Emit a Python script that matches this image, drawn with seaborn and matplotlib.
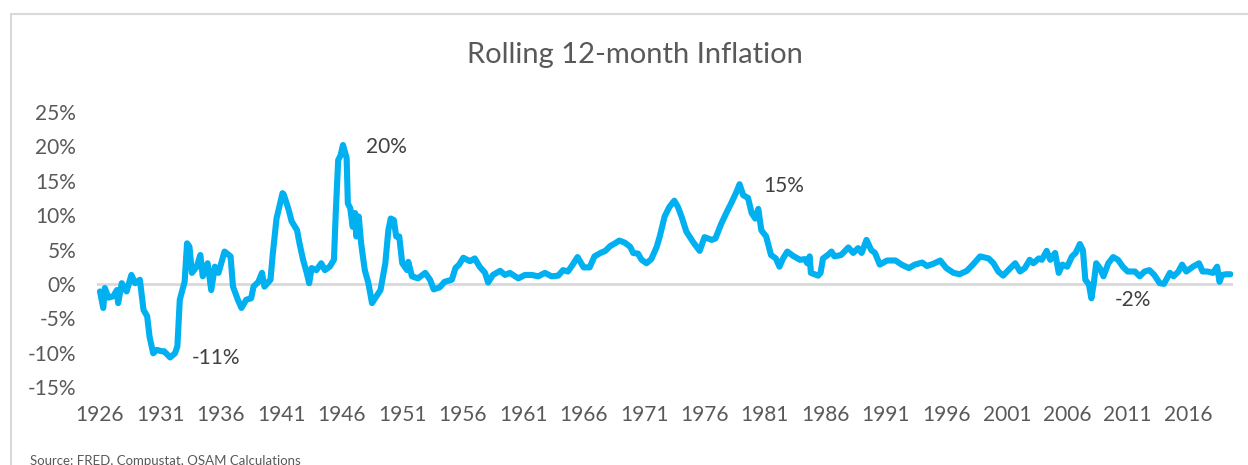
import numpy as np
import pandas as pd
import matplotlib.pyplot as plt
from matplotlib.patches import Rectangle
import seaborn as sns

# configurações do seaborn
sns.set_style('white')
plt.rcParams['font.family'] = ['Lato', 'DejaVu Sans']

# dados (ano decimal, inflação 12 meses em %)
anos = [1926.0, 1926.27, 1926.4, 1926.7, 1927.1, 1927.4, 1927.5, 1927.8, 1928.2, 1928.6,
        1928.9, 1929.3, 1929.6, 1929.9, 1930.1, 1930.4, 1930.7, 1931.1, 1931.3, 1931.8,
        1932.2, 1932.4, 1932.6, 1933.0, 1933.2, 1933.4, 1933.6, 1934.0, 1934.3, 1934.5,
        1934.9, 1935.2, 1935.5, 1935.8, 1936.3, 1936.8, 1937.0, 1937.4, 1937.7, 1938.1,
        1938.5, 1938.7, 1939.1, 1939.4, 1939.6, 1940.1, 1940.3, 1940.6, 1941.1, 1941.2,
        1941.6, 1941.85, 1942.3, 1942.5, 1942.8, 1943.1, 1943.3, 1943.5, 1943.9, 1944.3,
        1944.6, 1945.0, 1945.35, 1945.5, 1945.7, 1945.9, 1946.1, 1946.4, 1946.5, 1946.7,
        1946.9, 1947.1, 1947.2, 1947.4, 1947.6, 1947.9, 1948.2, 1948.5, 1948.75, 1949.2,
        1949.6, 1949.85, 1950.05, 1950.3, 1950.5, 1950.75, 1951.0, 1951.4, 1951.5, 1951.8,
        1952.3, 1952.9, 1953.3, 1953.6, 1954.1, 1954.5, 1955.1, 1955.4, 1955.7, 1956.05,
        1956.6, 1957.0, 1957.4, 1957.85, 1958.1, 1958.5, 1959.1, 1959.5, 1959.9, 1960.6,
        1961.15, 1961.7, 1962.25, 1962.8, 1963.35, 1963.9, 1964.3, 1964.7, 1965.1, 1965.5,
        1966.0, 1966.5, 1966.9, 1967.4, 1967.8, 1968.2, 1968.6, 1968.95, 1969.4, 1969.85,
        1970.1, 1970.5, 1970.8, 1971.2, 1971.6, 1972.05, 1972.3, 1972.7, 1973.1, 1973.5,
        1973.8, 1974.1, 1974.5, 1975.05, 1975.6, 1976.0, 1976.6, 1976.9, 1977.4, 1977.8,
        1978.2, 1978.65, 1978.9, 1979.2, 1979.6, 1979.9, 1980.2, 1980.45, 1980.7, 1981.1,
        1981.5, 1981.9, 1982.2, 1982.5, 1982.85, 1983.3, 1983.9, 1984.3, 1984.5, 1984.7,
        1984.8, 1985.4, 1985.6, 1985.8, 1986.2, 1986.5, 1986.75, 1987.3, 1987.9, 1988.3,
        1988.7, 1989.0, 1989.4, 1989.8, 1990.1, 1990.5, 1991.1, 1991.8, 1992.3, 1992.9,
        1993.4, 1994.0, 1994.4, 1994.9, 1995.5, 1996.0, 1996.6, 1997.1, 1997.7, 1998.2,
        1998.8, 1999.5, 1999.9, 2000.3, 2000.7, 2001.3, 2001.7, 2002.1, 2002.5, 2002.9,
        2003.2, 2003.65, 2003.9, 2004.3, 2004.6, 2005.0, 2005.3, 2005.6, 2006.0, 2006.4,
        2006.7, 2007.05, 2007.3, 2007.5, 2007.8, 2008.0, 2008.2, 2008.4, 2008.7, 2009.0,
        2009.4, 2009.8, 2010.2, 2010.6, 2011.0, 2011.6, 2012.0, 2012.4, 2012.8, 2013.2,
        2013.65, 2014.0, 2014.5, 2014.8, 2015.2, 2015.5, 2015.85, 2016.4, 2016.9, 2017.2,
        2017.6, 2018.05, 2018.4, 2018.6, 2018.8, 2019.15, 2019.5]

inflacao = [-1.1, -3.5, -0.6, -2.0, -1.8, -0.9, -2.8, 0.1, -1.1, 1.3,
            0.1, 0.6, -3.8, -4.7, -7.7, -10.1, -9.6, -9.8, -9.8, -10.7,
            -10.1, -9.1, -2.3, 0.3, 5.9, 5.4, 1.6, 2.5, 4.2, 1.1,
            3.0, -0.9, 2.5, 1.6, 4.7, 4.0, -0.4, -2.3, -3.5, -2.3,
            -2.1, -0.4, 0.3, 1.6, -0.4, 0.6, 4.5, 9.5, 13.2, 13.0,
            10.8, 9.1, 7.8, 5.9, 3.5, 1.6, 0.1, 2.3, 2.0, 3.0,
            2.0, 2.5, 3.5, 10.3, 18.0, 18.7, 20.2, 18.3, 11.7, 11.0,
            8.3, 10.3, 6.9, 9.8, 5.9, 2.0, 0.1, -2.8, -2.1, -0.9,
            3.0, 7.8, 9.5, 9.3, 6.9, 6.9, 3.0, 2.0, 3.2, 1.1,
            0.8, 1.6, 0.6, -0.8, -0.5, 0.3, 0.6, 2.3, 2.8, 3.8,
            3.3, 3.7, 2.5, 1.6, 0.2, 1.3, 1.9, 1.3, 1.6, 0.8,
            1.3, 1.3, 1.1, 1.6, 1.1, 1.2, 2.0, 1.8, 2.8, 3.9,
            2.4, 2.4, 4.0, 4.5, 4.8, 5.5, 5.9, 6.3, 6.0, 5.4,
            4.5, 4.4, 3.5, 3.0, 3.6, 5.4, 6.9, 9.8, 11.2, 12.1,
            11.2, 9.8, 7.6, 6.1, 4.8, 6.8, 6.4, 6.6, 8.8, 10.3,
            11.7, 13.4, 14.5, 12.9, 12.5, 10.3, 9.5, 10.9, 7.8, 6.9,
            4.2, 3.7, 2.5, 3.7, 4.7, 4.1, 3.5, 3.6, 3.0, 4.0,
            1.6, 1.2, 1.6, 3.7, 4.2, 4.7, 4.0, 4.2, 5.3, 4.5,
            5.2, 4.5, 6.4, 4.9, 4.5, 2.8, 3.4, 3.4, 2.8, 2.3,
            2.8, 3.1, 2.6, 2.9, 3.4, 2.3, 1.6, 1.4, 1.9, 2.8,
            4.0, 3.7, 3.0, 1.8, 1.2, 2.3, 3.0, 1.8, 2.3, 3.5,
            3.0, 3.7, 3.5, 4.8, 3.5, 4.5, 1.6, 2.8, 2.5, 4.0,
            4.5, 5.8, 4.9, 0.6, -0.1, -2.1, 0.1, 3.0, 2.3, 1.1,
            3.0, 3.9, 3.5, 2.5, 1.8, 1.8, 1.1, 1.8, 2.0, 1.3,
            0.1, 0.0, 1.6, 1.1, 1.8, 2.8, 1.8, 2.5, 3.0, 1.8,
            1.8, 1.6, 2.5, 0.3, 1.3, 1.4, 1.4]

anos_ticks = list(range(1926, 2017, 5))
pct_ticks = [-15, -10, -5, 0, 5, 10, 15, 20, 25]

rotulos_txt = ['20%', '15%', '-11%', '-2%']
rotulos_x = [1948.0, 1980.85, 1933.6, 2009.9]
rotulos_y = [19.9, 14.2, -10.8, -2.3]

df = pd.DataFrame({'Ano': anos, 'Inflação': inflacao})

cinza = '#595959'
azul = '#00B0F0'

fig = plt.figure(figsize=(12.48, 4.65), dpi=100)
ax = fig.add_axes([97 / 1248, 78 / 465, 1136 / 1248, 275 / 465])

# linha do zero
ax.axhline(0, color='#d9d9d9', lw=2, zorder=1)

sns.lineplot(data=df, x='Ano', y='Inflação', ax=ax, color=azul, lw=4.4, zorder=3,
             solid_joinstyle='round', solid_capstyle='round')

ax.set_xlim(1926 - 3 / 12.09, 1926 + 1133 / 12.09)
ax.set_ylim(-15, 25)
ax.set_xticks(anos_ticks)
ax.set_xticklabels([str(a) for a in anos_ticks])
ax.set_yticks(pct_ticks)
ax.set_yticklabels(['{}%'.format(p) for p in pct_ticks])
ax.tick_params(axis='x', length=0, pad=13, labelsize=15, labelcolor=cinza)
ax.tick_params(axis='y', length=0, pad=15, labelsize=15, labelcolor=cinza)
ax.set_xlabel('')
ax.set_ylabel('')
for s in ax.spines.values():
    s.set_visible(False)

for t, x, y in zip(rotulos_txt, rotulos_x, rotulos_y):
    ax.text(x, y, t, fontsize=15, color='#404040', va='center', ha='left')

fig.text(635 / 1248, (465 - 55) / 465, 'Rolling 12-month Inflation',
         fontsize=21, color=cinza, ha='center', va='center')

fig.text(30 / 1248, 4 / 465, 'Source: FRED, Compustat, OSAM Calculations',
         fontsize=9.5, color=cinza, ha='left', va='center')

# moldura do gráfico
fig.patches.append(Rectangle((11 / 1248, -0.1), 1.2, (465 - 14) / 465 + 0.1,
                             transform=fig.transFigure, fill=False,
                             edgecolor='#d9d9d9', lw=1.5))

fig.savefig('out.png', dpi=100)
